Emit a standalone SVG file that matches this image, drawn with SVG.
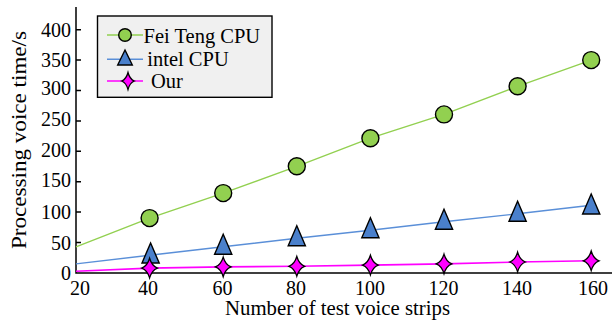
<svg xmlns="http://www.w3.org/2000/svg" width="612" height="323" viewBox="0 0 612 323">
  <style>
    text { font-family: "Liberation Serif", "Times New Roman", Times, "DejaVu Serif", serif; fill: #000; }
    .tick { font-size: 20px; }
    .title { font-size: 20.5px; }
    .axis { stroke: #000; stroke-width: 1.5; fill: none; }
    .s-green { stroke: #92d050; stroke-width: 1.4; fill: none; }
    .s-blue { stroke: #5a8fd8; stroke-width: 1.4; fill: none; }
    .s-mag { stroke: #ff00ff; stroke-width: 1.6; fill: none; }
    .m-green { fill: #92d050; stroke: #000; stroke-width: 1.4; }
    .m-blue { fill: #4a80cc; stroke: #000; stroke-width: 1.4; stroke-linejoin: miter; }
    .m-mag { fill: #ff00ff; stroke: #000; stroke-width: 1.3; }
  </style>
  <defs>
    <circle id="circ" r="8.5"/>
    <path id="tri" d="M0,-12.5 L8.6,7.5 L-8.6,7.5 Z"/>
    <path id="star" d="M0,-9.8 Q2.2,-2.2 7.8,0 Q2.2,2.2 0,9.8 Q-2.2,2.2 -7.8,0 Q-2.2,-2.2 0,-9.8 Z"/>
  </defs>

  <rect width="612" height="323" fill="#fff"/>

  <!-- axes -->
  <g id="axes">
    <path class="axis" d="M76,7 V273 H612"/>
    <path class="axis" d="M76,29.7 h5 M76,60.1 h5 M76,90.5 h5 M76,120.9 h5 M76,151.3 h5 M76,181.7 h5 M76,212.1 h5 M76,242.5 h5"/>
    <g class="tick" text-anchor="end" font-family="Liberation Serif, serif">
      <text x="71" y="36.5">400</text>
      <text x="71" y="67">350</text>
      <text x="71" y="95">300</text>
      <text x="71" y="125.5">250</text>
      <text x="71" y="156.5">200</text>
      <text x="71" y="187">150</text>
      <text x="71" y="218.5">100</text>
      <text x="71" y="250">50</text>
      <text x="71" y="280">0</text>
    </g>
    <g class="tick" text-anchor="middle" font-family="Liberation Serif, serif">
      <text x="80" y="295">20</text>
      <text x="148" y="295">40</text>
      <text x="222.5" y="295">60</text>
      <text x="296" y="295">80</text>
      <text x="370" y="295">100</text>
      <text x="443.5" y="295">120</text>
      <text x="517" y="295">140</text>
      <text x="593" y="295">160</text>
    </g>
    <text class="title" x="337.5" y="315" text-anchor="middle" textLength="225" lengthAdjust="spacingAndGlyphs">Number of test voice strips</text>
    <text class="title" transform="translate(26,140) rotate(-90)" text-anchor="middle" textLength="218" lengthAdjust="spacingAndGlyphs">Processing voice time/s</text>
  </g>

  <!-- data series lines -->
  <g id="connectors">
    <polyline class="s-green" points="76,246.8 149.6,218.1 223.2,193.1 296.8,166.3 370.4,138.2 444,114.4 517.6,86.3 591.2,60.1"/>
    <polyline class="s-blue" points="76,263.9 149.6,255.3 223.2,246.8 296.8,238.2 370.4,230.3 444,221.8 517.6,213.8 591.2,205.3"/>
    <polyline class="s-mag" points="76,271.2 149.6,268.1 223.2,266.9 296.8,266.3 370.4,265.1 444,263.9 517.6,262 591.2,260.8"/>
  </g>

  <!-- series: Fei Teng CPU -->
  <g id="series-feiteng">
    <use href="#circ" class="m-green" x="149.6" y="218.1"/>
    <use href="#circ" class="m-green" x="223.2" y="193.1"/>
    <use href="#circ" class="m-green" x="296.8" y="166.3"/>
    <use href="#circ" class="m-green" x="370.4" y="138.2"/>
    <use href="#circ" class="m-green" x="444" y="114.4"/>
    <use href="#circ" class="m-green" x="517.6" y="86.3"/>
    <use href="#circ" class="m-green" x="591.2" y="60.1"/>
  </g>

  <!-- series: intel CPU -->
  <g id="series-intel">
    <use href="#tri" class="m-blue" x="150.6" y="255.5"/>
    <use href="#tri" class="m-blue" x="223.2" y="246.8"/>
    <use href="#tri" class="m-blue" x="296.8" y="238.2"/>
    <use href="#tri" class="m-blue" x="370.4" y="230.3"/>
    <use href="#tri" class="m-blue" x="444" y="221.8"/>
    <use href="#tri" class="m-blue" x="517.6" y="213.8"/>
    <use href="#tri" class="m-blue" x="591.2" y="206.5"/>
  </g>

  <!-- series: Our -->
  <g id="series-our">
    <use href="#star" class="m-mag" x="149.6" y="268.1"/>
    <use href="#star" class="m-mag" x="223.2" y="266.9"/>
    <use href="#star" class="m-mag" x="296.8" y="266.3"/>
    <use href="#star" class="m-mag" x="370.4" y="265.1"/>
    <use href="#star" class="m-mag" x="444" y="263.9"/>
    <use href="#star" class="m-mag" x="517.6" y="262"/>
    <use href="#star" class="m-mag" x="591.2" y="260.8"/>
  </g>

  <!-- legend -->
  <g id="legend">
    <rect x="97.5" y="16" width="174.5" height="81.3" fill="#f0f0f0" stroke="#000" stroke-width="1.4"/>
    <line class="s-green" x1="107" y1="35" x2="143" y2="35"/>
    <circle class="m-green" cx="125" cy="35" r="6.3"/>
    <line class="s-blue" x1="107" y1="59.3" x2="143" y2="59.3"/>
    <path class="m-blue" d="M125,50 L132.3,65 L117.7,65 Z"/>
    <line class="s-mag" x1="107" y1="81" x2="143" y2="81"/>
    <path class="m-mag" d="M128,72.5 Q129.8,79.2 134.3,81 Q129.8,82.8 128,89.5 Q126.2,82.8 121.7,81 Q126.2,79.2 128,72.5 Z"/>
    <g class="title">
      <text x="143.5" y="43.3">Fei Teng CPU</text>
      <text x="147.3" y="65.5">intel CPU</text>
      <text x="151" y="87.5">Our</text>
    </g>
  </g>
</svg>
